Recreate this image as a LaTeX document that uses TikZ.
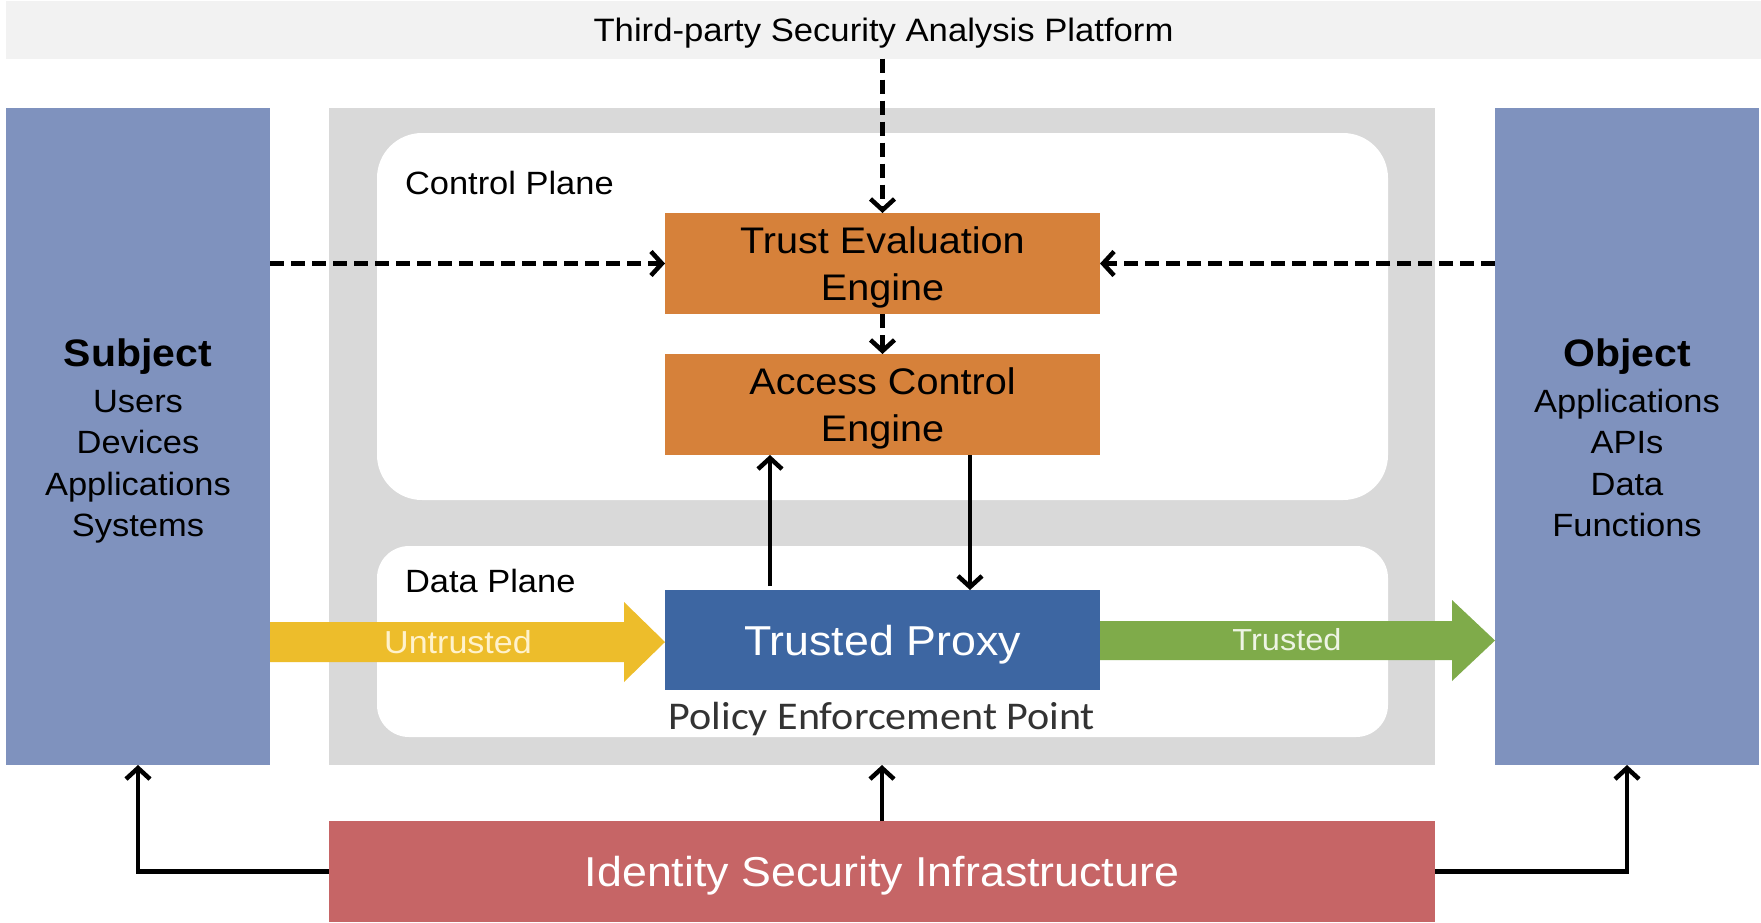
\documentclass[tikz,border=0pt]{standalone}
\usepackage{fontspec}
\setmainfont{Liberation Sans}[FakeStretch=1.07]
\newfontfamily\pepfont{Carlito}[FakeStretch=1.07]
\usetikzlibrary{arrows.meta,calc}
\definecolor{bannergray}{HTML}{F2F2F2}
\definecolor{coregray}{HTML}{D9D9D9}
\definecolor{sideblue}{HTML}{7F92BE}
\definecolor{engorange}{HTML}{D6813A}
\definecolor{proxyblue}{HTML}{3D66A2}
\definecolor{untrustyellow}{HTML}{EDBD2B}
\definecolor{trustgreen}{HTML}{7FAB4A}
\definecolor{infrared}{HTML}{C66566}
\definecolor{pepgray}{HTML}{333333}
\definecolor{untrusttext}{HTML}{FFF2CC}
\definecolor{trusttext}{HTML}{EEF4E4}
\begin{document}
\begin{tikzpicture}[x=1pt,y=-1pt,
  box/.style={rectangle,inner sep=0pt,outer sep=0pt,align=center,draw=none,text depth=0pt},
  lbl/.style={inner sep=0pt,outer sep=0pt},
  dasharrow/.style={line width=4.5pt,dash pattern=on 14pt off 7pt,-{Straight Barb[length=11pt,width=24pt]}},
  solidarrow/.style={line width=4.5pt,-{Straight Barb[length=11pt,width=24pt]}},
  elbow/.style={line width=4.5pt,-{Straight Barb[length=11pt,width=24pt]}},
]
\useasboundingbox (0,0) rectangle (1761,922);
\fill[white] (0,0) rectangle (1761,922);
% banner
\node[box,fill=bannergray,minimum width=1755pt,minimum height=58pt,text depth=-3pt,font=\fontsize{32.4}{39}\selectfont] (tsap) at (883.5,29.5) {Third-party Security Analysis Platform};
% core gray area
\node[box,fill=coregray,minimum width=1106pt,minimum height=657pt] (core) at (882,436.5) {};
\node[box,fill=white,rounded corners=45pt,minimum width=1011pt,minimum height=367pt] (cp) at (882.5,316.5) {};
\node[box,fill=white,rounded corners=32pt,minimum width=1011pt,minimum height=191pt] (dp) at (882.5,641.5) {};
\node[lbl,anchor=west,font=\fontsize{32.2}{39}\selectfont] (cplabel) at (405,183) {Control Plane};
\node[lbl,anchor=west,font=\fontsize{32.2}{39}\selectfont] (dplabel) at (405,581) {Data Plane};
% engines
\node[box,fill=engorange,minimum width=435pt,minimum height=101pt,font=\fontsize{37}{47}\selectfont] (tee) at (882.5,263.5) {Trust Evaluation\\Engine};
\node[box,fill=engorange,minimum width=435pt,minimum height=101pt,font=\fontsize{37}{47}\selectfont] (ace) at (882.5,404.5) {Access Control\\Engine};
\node[box,fill=proxyblue,text=white,minimum width=435pt,minimum height=100pt,font=\fontsize{41.8}{50}\selectfont] (tp) at (882.5,640) {Trusted Proxy};
\node[lbl,text=pepgray,font=\pepfont\fontsize{39.3}{47}\selectfont] (pep) at (882,719.5) {Policy Enforcement Point};
% identity infrastructure
\node[box,fill=infrared,text=white,minimum width=1106pt,minimum height=101pt,font=\fontsize{41.8}{50}\selectfont] (isi) at (882,871.5) {Identity Security Infrastructure};
% subject / object
\node[box,fill=sideblue,minimum width=264pt,minimum height=657pt] (subj) at (138,436.5) {};
\node[box,fill=sideblue,minimum width=264pt,minimum height=657pt] (obj) at (1627,436.5) {};
\node[lbl,anchor=base,font=\bfseries\fontsize{38.3}{46}\selectfont] (subjtitle) at (138,366) {Subject};
\node[lbl,anchor=base,font=\bfseries\fontsize{38.3}{46}\selectfont] (objtitle) at (1627,366) {Object};
\foreach \t/\yy/\n in {Users/412/s1,Devices/453.5/s2,Applications/495/s3,Systems/536.5/s4}
  \node[lbl,anchor=base,font=\fontsize{32.2}{39}\selectfont] (\n) at (138,\yy) {\t};
\foreach \t/\yy/\n in {Applications/412/o1,APIs/453.5/o2,Data/495/o3,Functions/536.5/o4}
  \node[lbl,anchor=base,font=\fontsize{32.2}{39}\selectfont] (\n) at (1627,\yy) {\t};
% fat arrows
\fill[untrustyellow] (subj.east |- 0,622) -- (624,622) -- (624,602) -- (tp.west |- 0,642)
  -- (624,682) -- (624,662) -- (subj.east |- 0,662) -- cycle;
\node[lbl,text=untrusttext,font=\fontsize{31.8}{38}\selectfont] (untr) at (458,642) {Untrusted};
\fill[trustgreen] (tp.east |- 0,621) -- (1452,621) -- (1452,600) -- (obj.west |- 0,640.5)
  -- (1452,681) -- (1452,660) -- (tp.east |- 0,660) -- cycle;
\node[lbl,text=trusttext,font=\fontsize{30.4}{37}\selectfont] (tr) at (1287,640) {Trusted};
% dashed arrows
\draw[dasharrow] (tee.north |- tsap.south) -- (tee.north);
\draw[dasharrow] (subj.east |- tee.west) -- (tee.west);
\draw[dasharrow] (obj.west |- tee.east) -- (tee.east);
\draw[dasharrow] (tee.south) -- (ace.north);
% solid arrows
\draw[solidarrow] ([xshift=-112.5pt,yshift=4pt]tp.north) -- ([xshift=-112.5pt]ace.south);
\draw[solidarrow] ([xshift=87.5pt]ace.south) -- ([xshift=87.5pt]tp.north);
\draw[solidarrow] (isi.north) -- (core.south);
\draw[elbow] (isi.west) -| (subj.south);
\draw[elbow] (isi.east) -| (obj.south);
\end{tikzpicture}
\end{document}
